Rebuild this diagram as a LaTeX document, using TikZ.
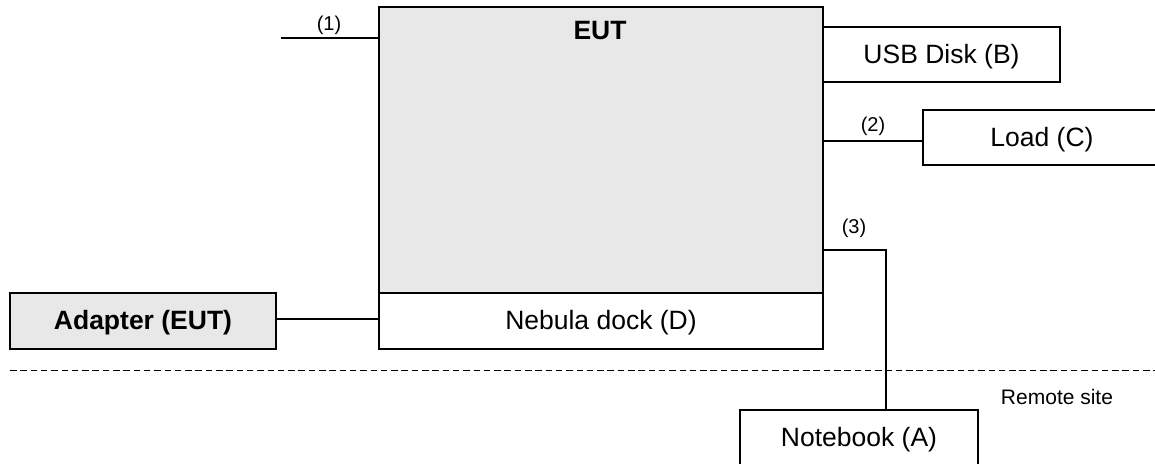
\documentclass[tikz,border=0pt]{standalone}
\usepackage{fontspec}
\setmainfont{Liberation Sans}
\begin{document}
\begin{tikzpicture}[x=1pt,y=-1pt,
 boxn/.style={draw=black,line width=1.9pt,outer sep=0pt,anchor=north west,inner sep=0pt,align=center},
 big/.style={font=\fontsize{26.5}{30}\selectfont},
 lowtext/.style={text height=24pt,text depth=6.5pt},
 small/.style={font=\fontsize{20}{24}\selectfont,inner sep=0pt},
 wire/.style={line width=1.9pt}]
\useasboundingbox (0,0) rectangle (1155,463);
\node[boxn,fill=black!9,minimum width=444pt,minimum height=286pt] (eut) at (379,7) {};
\node[big,inner sep=0pt] at (600,31) {\textbf{EUT}};
\node[boxn,minimum width=444pt,minimum height=56pt,big,lowtext] (dock) at (379,293) {Nebula dock (D)};
\node[boxn,minimum width=237pt,minimum height=55pt,big,lowtext] (usb) at (823,27) {USB Disk (B)};
\node[boxn,minimum width=238pt,minimum height=55pt,big,lowtext] (load) at (923,110) {Load (C)};
\node[boxn,fill=black!9,minimum width=266pt,minimum height=56pt,big,lowtext] (adapter) at (10,293) {\textbf{Adapter (EUT)}};
\node[boxn,minimum width=238pt,minimum height=56pt,big,lowtext] (nb) at (740,410) {Notebook (A)};
\coordinate (f1) at (281,38);
\coordinate (e1) at (379,38);
\coordinate (e2) at (823,141);
\coordinate (l2) at (923,141);
\coordinate (e3) at (823,250);
\coordinate (c3) at (886,250);
\coordinate (n3) at (886,410);
\coordinate (a1) at (276,319);
\coordinate (d1) at (379,319);
\coordinate (h1) at (10,370);
\coordinate (h2) at (1155,370);
\draw[wire] (f1) -- (e1);
\draw[wire] (e2) -- (l2);
\draw[wire] (e3) -- (c3) -- (n3);
\draw[wire] (a1) -- (d1);
\draw[line width=1pt,dash pattern=on 6.5pt off 3.8pt] (h1) -- (h2);
\node[small] at (329,25) {(1)};
\node[small] at (873,126) {(2)};
\node[small] at (854,228) {(3)};
\node[small,font=\fontsize{21}{24}\selectfont] at (1057,397) {Remote site};
\end{tikzpicture}
\end{document}
